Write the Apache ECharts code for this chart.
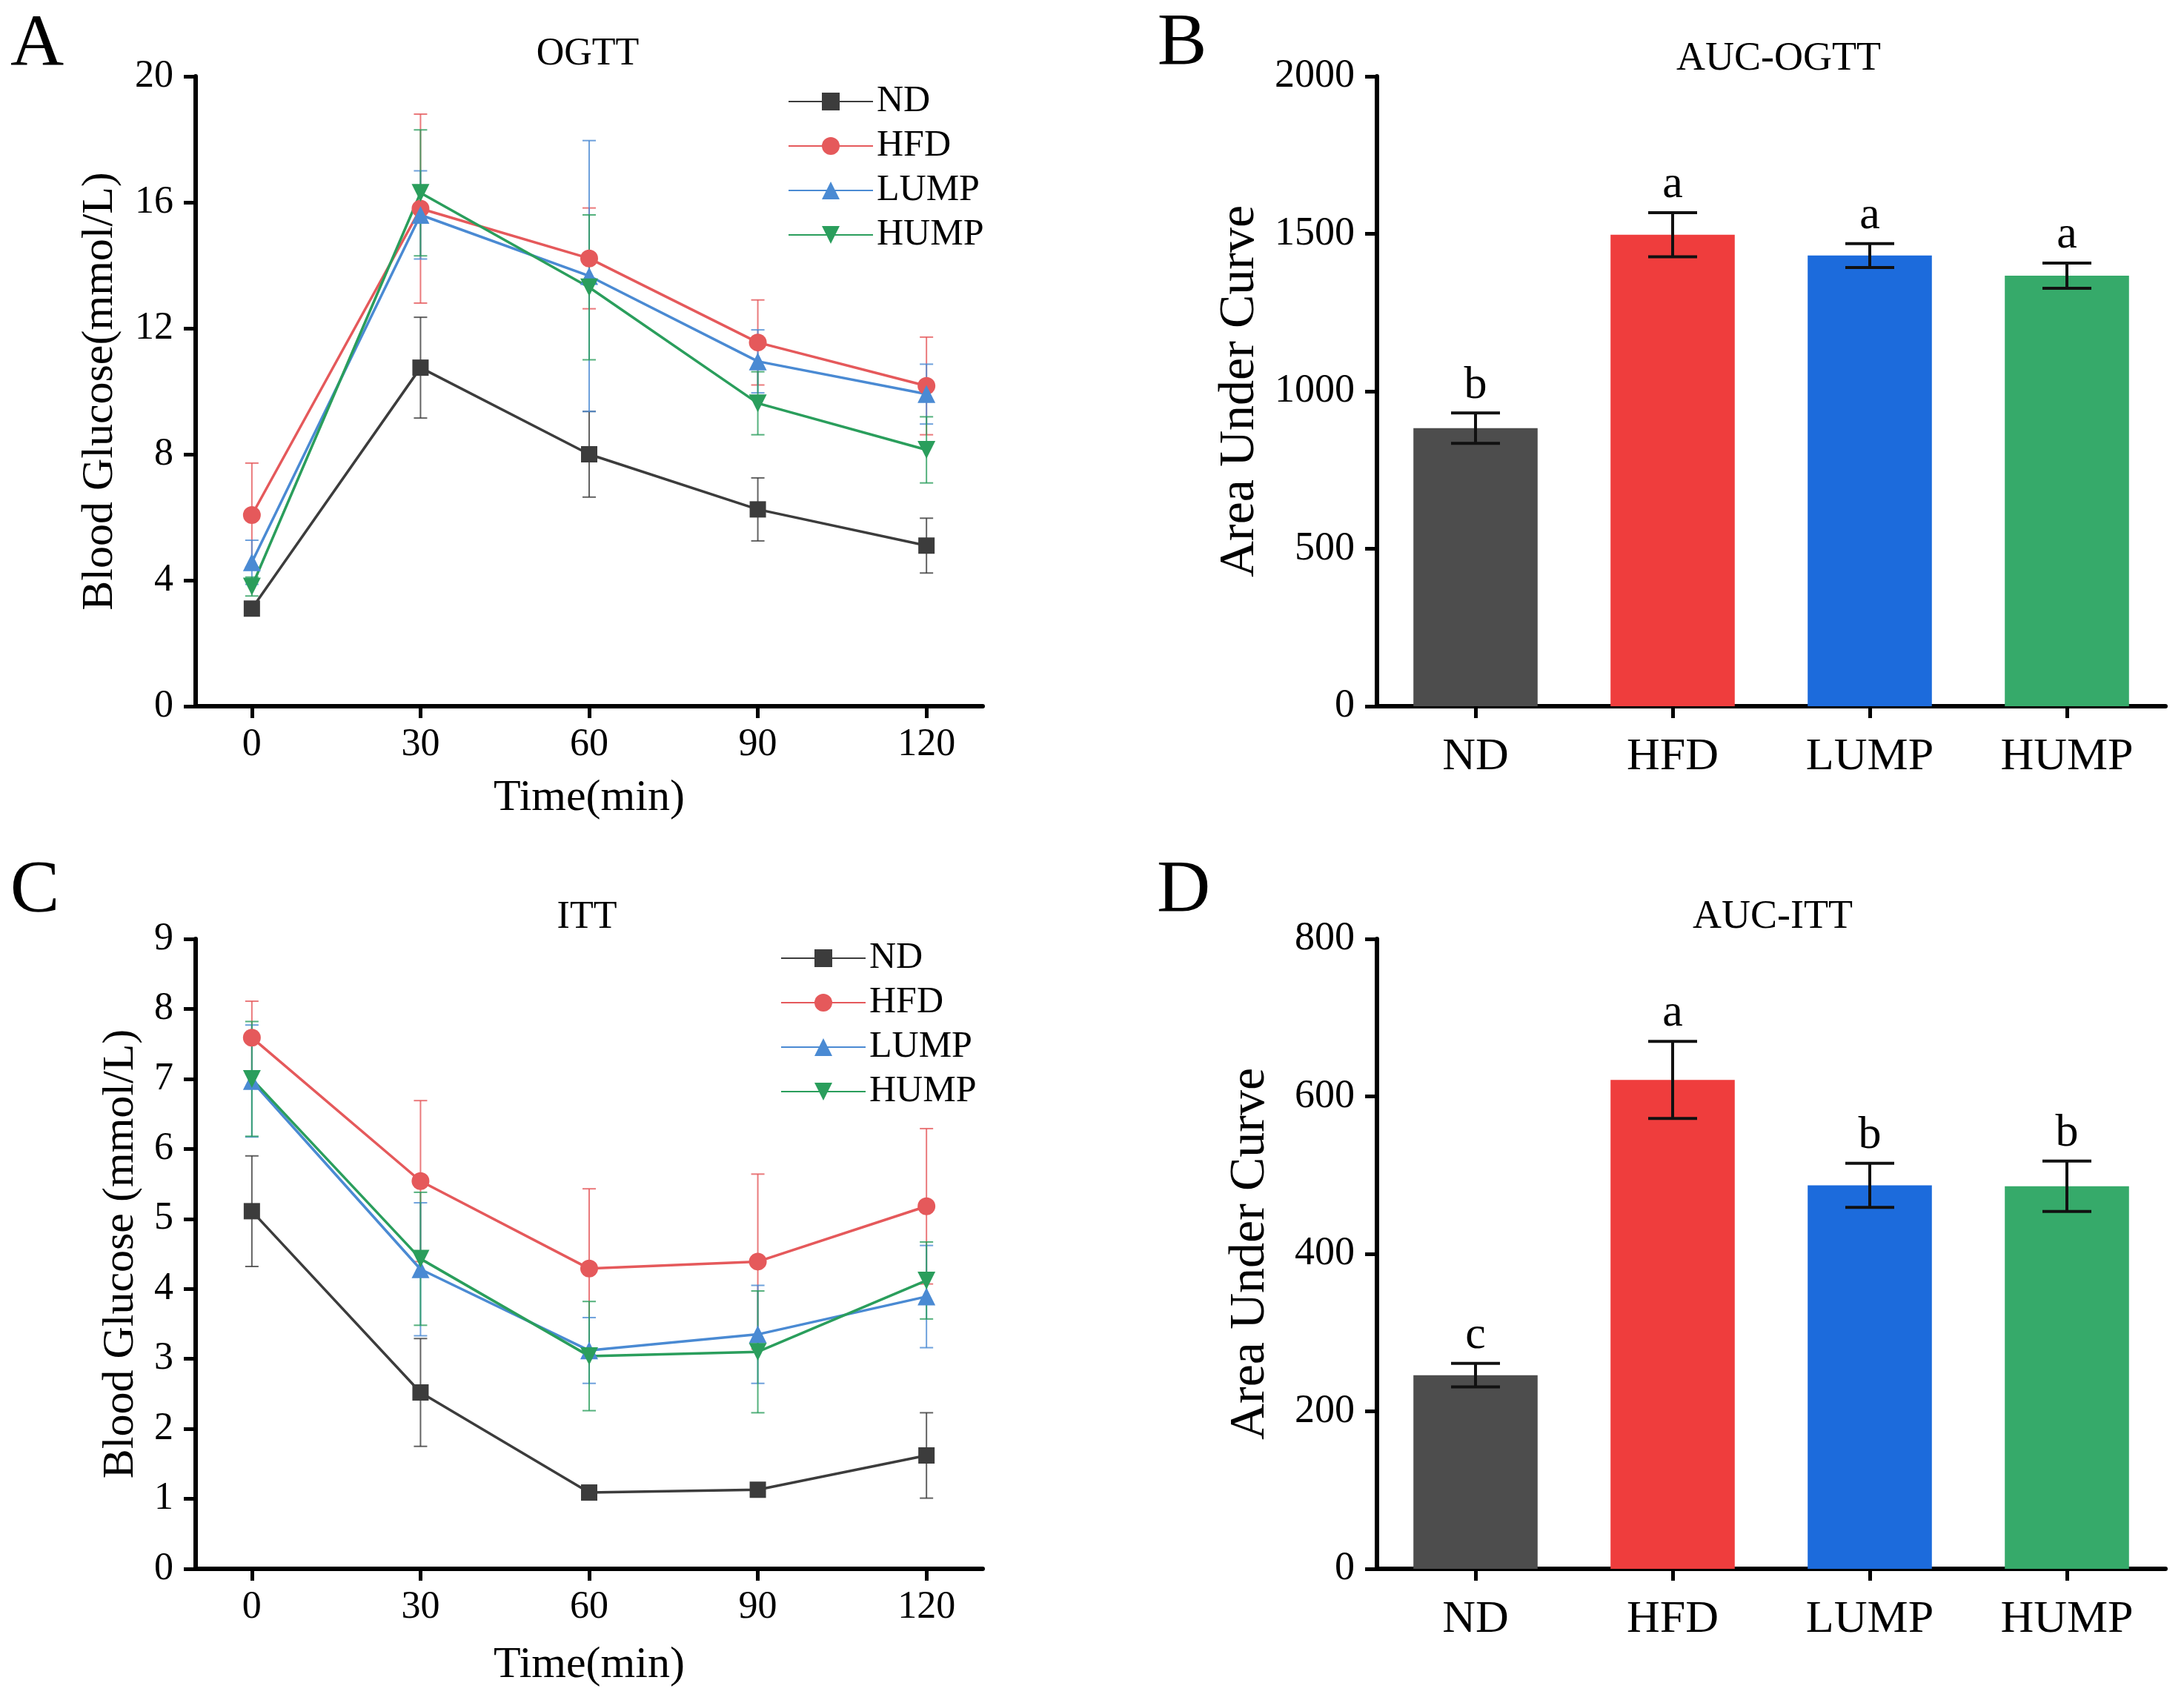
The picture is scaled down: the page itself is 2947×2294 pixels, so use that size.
<!DOCTYPE html>
<html>
<head>
<meta charset="utf-8">
<script src="https://cdn.jsdelivr.net/npm/echarts@6/dist/echarts.min.js"></script>
<style>
  html, body { margin: 0; padding: 0; background: #fff; }
  #chart { width: 2947px; height: 2294px; }
</style>
</head>
<body>
<div id="chart"></div>
<script>
// time points (min)
const times = [0, 30, 60, 90, 120];
const groups = ['ND', 'HFD', 'LUMP', 'HUMP'];

// OGTT blood glucose, mean and sd
const ogttND = [3.1, 10.75, 8.0, 6.25, 5.1];
const ogttNDsd = [0.2, 1.6, 1.36, 1.0, 0.87];
const ogttHFD = [6.07, 15.8, 14.22, 11.55, 10.17];
const ogttHFDsd = [1.65, 3.0, 1.6, 1.35, 1.55];
const ogttLUMP = [4.57, 15.6, 13.66, 10.95, 9.91];
const ogttLUMPsd = [0.7, 1.4, 4.3, 1.0, 0.95];
const ogttHUMP = [3.8, 16.3, 13.3, 9.62, 8.14];
const ogttHUMPsd = [0.3, 2.0, 2.3, 1.0, 1.05];

// ITT blood glucose, mean and sd
const ittND = [5.11, 2.52, 1.09, 1.13, 1.62];
const ittNDsd = [0.79, 0.77, 0.05, 0.05, 0.61];
const ittHFD = [7.59, 5.54, 4.29, 4.39, 5.18];
const ittHFDsd = [0.52, 1.15, 1.14, 1.25, 1.11];
const ittLUMP = [6.97, 4.28, 3.12, 3.35, 3.89];
const ittLUMPsd = [0.8, 0.95, 0.47, 0.7, 0.73];
const ittHUMP = [7.0, 4.43, 3.04, 3.1, 4.12];
const ittHUMPsd = [0.82, 0.95, 0.78, 0.87, 0.55];

// area under curve
const aucOgtt = [883, 1497, 1431, 1367];
const aucOgttSd = [48, 70, 38, 40];
const aucOgttSig = ['b', 'a', 'a', 'a'];
const aucItt = [246, 621, 487, 486];
const aucIttSd = [15, 49, 28, 32];
const aucIttSig = ['c', 'a', 'b', 'b'];

const F = 'Liberation Serif';
const INK = '#000';
const lineColors = ['#3c3c3c', '#e5595b', '#4a8ad3', '#2a9e5c'];
const barColors = ['#4d4d4d', '#ef3d3d', '#1c6bdc', '#36aa6a'];
const symbols = ['rect', 'circle', 'triangle', 'triangle'];
const symbolRot = [0, 0, 0, 180];

const chart = echarts.init(document.getElementById('chart'));

function xTime(gridIndex, nameGap) {
  return {
    type: 'value', gridIndex, min: -10, max: 130,
    axisLine: { show: true, onZero: false, lineStyle: { color: '#000', width: 6 } },
    axisTick: { show: true, length: 16, customValues: times, lineStyle: { color: '#000', width: 5 } },
    axisLabel: { customValues: times, margin: 26, fontSize: 52, fontFamily: F, color: INK },
    splitLine: { show: false },
    name: 'Time(min)', nameLocation: 'middle', nameGap,
    nameTextStyle: { fontSize: 60, fontFamily: F, color: INK }
  };
}

function yVal(gridIndex, max, interval, name, nameGap, nameSize, labelSize) {
  return {
    type: 'value', gridIndex, min: 0, max, interval,
    axisLine: { show: true, onZero: false, lineStyle: { color: '#000', width: 6 } },
    axisTick: { show: true, length: 16, lineStyle: { color: '#000', width: 5 } },
    axisLabel: { margin: 30, fontSize: labelSize, fontFamily: F, color: INK, formatter: v => String(v) },
    splitLine: { show: false },
    name, nameLocation: 'middle', nameGap, nameRotate: 90,
    nameTextStyle: { fontSize: nameSize, fontFamily: F, color: INK }
  };
}

function xCat(gridIndex) {
  return {
    type: 'category', gridIndex, data: groups,
    axisLine: { show: true, lineStyle: { color: '#000', width: 6 } },
    axisTick: { show: true, alignWithLabel: true, length: 16, lineStyle: { color: '#000', width: 5 } },
    axisLabel: { margin: 38, fontSize: 62, fontFamily: F, color: INK }
  };
}

function errSeries(axisIdx, means, sds, color, width, capHalf, sig) {
  return {
    type: 'custom', xAxisIndex: axisIdx, yAxisIndex: axisIdx, z: sig ? 5 : 1, silent: true,
    data: means.map((m, i) => [sig ? i : times[i], m, sds[i]]),
    renderItem: function (params, api) {
      const x = api.value(0), m = api.value(1), s = api.value(2);
      const top = api.coord([x, m + s]);
      const bot = api.coord([x, m - s]);
      const st = { stroke: color, lineWidth: width, opacity: sig ? 1 : 0.8 };
      const children = [
        { type: 'line', shape: { x1: top[0], y1: top[1], x2: bot[0], y2: bot[1] }, style: st },
        { type: 'line', shape: { x1: top[0] - capHalf, y1: top[1], x2: top[0] + capHalf, y2: top[1] }, style: st },
        { type: 'line', shape: { x1: bot[0] - capHalf, y1: bot[1], x2: bot[0] + capHalf, y2: bot[1] }, style: st }
      ];
      if (sig) {
        children.push({
          type: 'text', x: top[0], y: top[1] - 6,
          style: { text: sig[params.dataIndex], fontSize: 62, fontFamily: F, fill: INK, align: 'center', verticalAlign: 'bottom' }
        });
      }
      return { type: 'group', children };
    }
  };
}

const series = [];
const ogtt = [[ogttND, ogttNDsd], [ogttHFD, ogttHFDsd], [ogttLUMP, ogttLUMPsd], [ogttHUMP, ogttHUMPsd]];
const itt = [[ittND, ittNDsd], [ittHFD, ittHFDsd], [ittLUMP, ittLUMPsd], [ittHUMP, ittHUMPsd]];
[[ogtt, 0], [itt, 1]].forEach(([set, ax]) => {
  set.forEach(([means, sds], g) => {
    series.push(errSeries(ax, means, sds, lineColors[g], 2, 9));
  });
  set.forEach(([means], g) => {
    series.push({
      type: 'line', name: groups[g], xAxisIndex: ax, yAxisIndex: ax, z: 3,
      data: means.map((m, i) => [times[i], m]),
      symbol: symbols[g], symbolRotate: symbolRot[g], symbolSize: g === 0 ? 22 : 24,
      lineStyle: { color: lineColors[g], width: 3.5 },
      itemStyle: { color: lineColors[g] },
      animation: false
    });
  });
});

[[aucOgtt, aucOgttSd, aucOgttSig, 2], [aucItt, aucIttSd, aucIttSig, 3]].forEach(([vals, sds, sig, ax]) => {
  series.push({
    type: 'bar', name: 'AUC' + ax, xAxisIndex: ax, yAxisIndex: ax, barWidth: '63%', z: 2,
    data: vals.map((v, i) => ({ value: v, itemStyle: { color: barColors[i] } })),
    animation: false
  });
  series.push(errSeries(ax, vals, sds, '#111', 4, 33, sig));
});

function txt(text, x, y, size) {
  return { type: 'text', x, y, style: { text, fontSize: size, fontFamily: F, fill: INK, align: 'center', verticalAlign: 'middle' } };
}

const legendBase = {
  orient: 'vertical', padding: 0, itemWidth: 114, itemHeight: 30, itemGap: 10,
  data: groups,
  textStyle: { fontSize: 50, fontFamily: F, color: INK, lineHeight: 50 }
};

chart.setOption({
  animation: false,
  backgroundColor: '#fff',
  grid: [
    { left: 264, top: 103, width: 1062, height: 850 },
    { left: 264, top: 1267, width: 1062, height: 850 },
    { left: 1858, top: 103, width: 1064, height: 850 },
    { left: 1858, top: 1267, width: 1064, height: 850 }
  ],
  xAxis: [xTime(0, 94), xTime(1, 100), xCat(2), xCat(3)],
  yAxis: [
    yVal(0, 20, 4, 'Blood Glucose(mmol/L)', 99, 60, 52),
    yVal(1, 9, 1, 'Blood Glucose (mmol/L)', 71, 60, 52),
    yVal(2, 2000, 500, 'Area Under Curve', 151, 68, 54),
    yVal(3, 800, 200, 'Area Under Curve', 137, 68, 54)
  ],
  legend: [
    Object.assign({ left: 1063, top: 112 }, legendBase),
    Object.assign({ left: 1053, top: 1268 }, legendBase)
  ],
  graphic: [
    txt('A', 50, 62, 100), txt('B', 1595, 60, 100),
    txt('C', 47, 1203, 100), txt('D', 1597, 1203, 100),
    txt('OGTT', 793, 73, 52), txt('AUC-OGTT', 2400, 80, 54),
    txt('ITT', 792, 1238, 52), txt('AUC-ITT', 2392, 1238, 54)
  ],
  series
});
</script>
</body>
</html>
